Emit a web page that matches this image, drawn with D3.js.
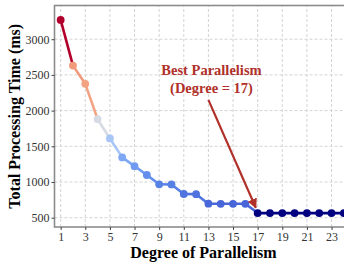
<!DOCTYPE html>
<html>
<head>
<meta charset="utf-8">
<script src="https://cdn.jsdelivr.net/npm/d3@7"></script>
<style>
  body { margin: 0; overflow: hidden; background: #fff; }
  svg text { font-family: "Liberation Serif", "Times New Roman", serif; }
</style>
</head>
<body>
<div id="chart"></div>
<script>
// degree of parallelism vs total processing time (ms)
const degrees = d3.range(1, 25);
const times = [3270, 2630, 2375, 1880, 1610, 1345, 1222, 1098, 968, 966, 832, 830,
               696, 695, 695, 695, 565, 565, 565, 565, 565, 565, 565, 565];
const xTicks = [1, 3, 5, 7, 9, 11, 13, 15, 17, 19, 21, 23];
const yTicks = [500, 1000, 1500, 2000, 2500, 3000];
const noteLines = ["Best Parallelism", "(Degree = 17)"];

const W = 352, H = 265;
const margin = { top: 5.5, right: 2, bottom: 38, left: 54.5 };

const svg = d3.select("#chart").append("svg")
    .attr("width", W)
    .attr("height", H);

const x = d3.scaleLinear()
    .domain([0.5, 24.5])
    .range([margin.left, W - margin.right]);

const y = d3.scaleLinear()
    .domain([370, 3472])
    .range([H - margin.bottom, margin.top]);

// colour by value: navy (fast) -> blue -> grey -> salmon -> crimson (slow)
const color = d3.scaleLinear()
    .domain([565, 690, 1000, 1350, 1620, 1880, 2300, 2700, 3270])
    .range(["#000080", "#4866d8", "#5a84e8", "#7fa8f4", "#a9c7f5", "#d6dbe4", "#f4a582", "#f0987a", "#b2002c"])
    .interpolate(d3.interpolateRgb);

const data = degrees.map((d, i) => ({ deg: d, t: times[i] }));

// grid
svg.append("g")
    .selectAll("line")
    .data(xTicks)
    .join("line")
    .attr("x1", d => x(d)).attr("x2", d => x(d))
    .attr("y1", y.range()[0]).attr("y2", y.range()[1])
    .attr("stroke", "#d4d4d4")
    .attr("stroke-dasharray", "3,2");

svg.append("g")
    .selectAll("line")
    .data(yTicks)
    .join("line")
    .attr("x1", x.range()[0]).attr("x2", x.range()[1])
    .attr("y1", d => y(d)).attr("y2", d => y(d))
    .attr("stroke", "#d4d4d4")
    .attr("stroke-dasharray", "3,2");

// panel border
svg.append("rect")
    .attr("x", x.range()[0])
    .attr("y", y.range()[1])
    .attr("width", x.range()[1] - x.range()[0])
    .attr("height", y.range()[0] - y.range()[1])
    .attr("fill", "none")
    .attr("stroke", "#8c8c8c")
    .attr("stroke-width", 1.6);

// axes
const xAxis = svg.append("g")
    .attr("transform", `translate(0,${y.range()[0]})`)
    .call(d3.axisBottom(x).tickValues(xTicks).tickSize(3).tickPadding(2));

const yAxis = svg.append("g")
    .attr("transform", `translate(${x.range()[0]},0)`)
    .call(d3.axisLeft(y).tickValues(yTicks).tickSize(3).tickPadding(2).tickFormat(d3.format("d")));

[xAxis, yAxis].forEach(a => {
    a.attr("font-family", null);
    a.select(".domain").remove();
    a.selectAll(".tick line").attr("stroke", "#444");
    a.selectAll(".tick text")
        .attr("fill", "#333")
        .style("font-size", "12px")
        .style("font-family", "'Liberation Serif', serif");
});

// line segments coloured by starting point
svg.append("g")
    .selectAll("line")
    .data(data.slice(0, -1))
    .join("line")
    .attr("x1", d => x(d.deg))
    .attr("y1", d => y(d.t))
    .attr("x2", (d, i) => x(data[i + 1].deg))
    .attr("y2", (d, i) => y(data[i + 1].t))
    .attr("stroke", d => color(d.t))
    .attr("stroke-width", 2.6)
    .attr("stroke-linecap", "round");

svg.append("g")
    .selectAll("circle")
    .data(data)
    .join("circle")
    .attr("cx", d => x(d.deg))
    .attr("cy", d => y(d.t))
    .attr("r", 3.9)
    .attr("fill", d => color(d.t));

// annotation arrow
const red = "#b0302a";
svg.append("defs").append("marker")
    .attr("id", "head")
    .attr("viewBox", "0 0 10 10")
    .attr("refX", 9).attr("refY", 5)
    .attr("markerWidth", 4.5).attr("markerHeight", 4.5)
    .attr("markerUnits", "strokeWidth")
    .attr("orient", "auto")
    .append("path")
    .attr("d", "M0,0L10,5L0,10z")
    .attr("fill", red);

svg.append("line")
    .attr("x1", x(13.0)).attr("y1", y(2150))
    .attr("x2", x(16.85)).attr("y2", y(640))
    .attr("stroke", red)
    .attr("stroke-width", 2.2)
    .attr("marker-end", "url(#head)");

svg.append("text")
    .attr("y", y(2500))
    .attr("text-anchor", "middle")
    .attr("fill", red)
    .style("font-size", "14.5px")
    .style("font-weight", "bold")
    .selectAll("tspan")
    .data(noteLines)
    .join("tspan")
    .attr("x", x(13.25))
    .attr("dy", (d, i) => i === 0 ? 0 : 18)
    .text(d => d);

// axis titles
svg.append("text")
    .attr("x", x(12.6))
    .attr("y", 258)
    .attr("text-anchor", "middle")
    .style("font-size", "16px")
    .style("font-weight", "bold")
    .text("Degree of Parallelism");

svg.append("text")
    .attr("transform", `translate(20,${(y.range()[0] + y.range()[1]) / 2}) rotate(-90)`)
    .attr("text-anchor", "middle")
    .style("font-size", "16px")
    .style("font-weight", "bold")
    .text("Total Processing Time (ms)");
</script>
</body>
</html>
